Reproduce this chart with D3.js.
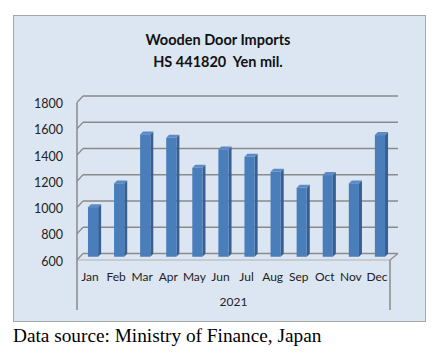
<!DOCTYPE html>
<html>
<head>
<meta charset="utf-8">
<script src="https://cdn.jsdelivr.net/npm/d3@7"></script>
<style>
  body { margin: 0; background: #fff; }
  svg { display: block; }
</style>
</head>
<body>
<div id="chart"></div>
<script>
const months = ["Jan", "Feb", "Mar", "Apr", "May", "Jun", "Jul", "Aug", "Sep", "Oct", "Nov", "Dec"];
const imports = [978, 1159, 1532, 1506, 1278, 1418, 1361, 1247, 1125, 1222, 1159, 1527];
const yTicks = [600, 800, 1000, 1200, 1400, 1600, 1800];
const yearLabel = "2021";
const titleLines = ["Wooden Door Imports", "HS 441820  Yen mil."];
const sourceNote = "Data source: Ministry of Finance, Japan";

const W = 436, H = 353;
const depth = { dx: 6, dy: -6.5 };   // 3D offset of the back wall
const barDepth = { dx: 3, dy: -3 };
const font = "Lato, 'Open Sans', sans-serif";

const svg = d3.select("#chart").append("svg")
    .attr("width", W)
    .attr("height", H);

// chart panel
svg.append("rect")
    .attr("x", 13.5).attr("y", 15.5)
    .attr("width", 412).attr("height", 306)
    .attr("fill", "#dce6f2")
    .attr("stroke", "#a6a6a6")
    .attr("stroke-width", 1);

const title = svg.append("text")
    .attr("text-anchor", "middle")
    .style("font-family", font)
    .style("font-weight", "bold")
    .style("font-size", "14.5px")
    .style("white-space", "pre")
    .attr("fill", "#111");
title.selectAll("tspan").data(titleLines).enter().append("tspan")
    .attr("x", 218)
    .attr("y", (d, i) => 45 + i * 21.5)
    .text(d => d);

const x = d3.scaleBand().domain(months).range([77, 390]);
const yFront = d3.scaleLinear().domain([600, 1800]).range([260, 102.5]);
const yBack = v => yFront(v) + depth.dy;
const yMid = v => yFront(v) + depth.dy / 2;

const grid = "#8a8a8a";

// back wall gridlines + left wall slants
const g = svg.append("g");
g.selectAll(".grid").data(yTicks).enter().append("line")
    .attr("x1", 77 + depth.dx).attr("x2", 398)
    .attr("y1", d => yBack(d)).attr("y2", d => yBack(d))
    .attr("stroke", grid).attr("stroke-width", 1.5);
g.selectAll(".slant").data(yTicks).enter().append("line")
    .attr("x1", 77).attr("y1", d => yFront(d))
    .attr("x2", 77 + depth.dx).attr("y2", d => yBack(d))
    .attr("stroke", grid).attr("stroke-width", 1.2);

// floor front edge and right slant
g.append("line")
    .attr("x1", 77).attr("x2", 390)
    .attr("y1", yFront(600)).attr("y2", yFront(600))
    .attr("stroke", "#b0b0b0").attr("stroke-width", 1);
g.append("line")
    .attr("x1", 390).attr("y1", yFront(600))
    .attr("x2", 398).attr("y2", yBack(600))
    .attr("stroke", grid).attr("stroke-width", 1.2);

// vertical axis line and category dividers
g.append("line")
    .attr("x1", 77).attr("x2", 77)
    .attr("y1", yFront(1800)).attr("y2", 310)
    .attr("stroke", grid).attr("stroke-width", 1.5);
g.append("line")
    .attr("x1", 390).attr("x2", 390)
    .attr("y1", yFront(600)).attr("y2", 310)
    .attr("stroke", grid).attr("stroke-width", 1.5);

// y labels
const yAxis = svg.append("g")
    .attr("transform", "translate(77,1)")
    .call(d3.axisLeft(yFront).tickValues(yTicks).tickFormat(d3.format("d")).tickSize(0).tickPadding(14));
yAxis.select(".domain").remove();
yAxis.selectAll("text")
    .style("font-family", font)
    .style("font-size", "12.5px")
    .attr("fill", "#222");

// 3D bars
const bw = x.bandwidth() * 0.39;
const bars = svg.append("g").selectAll(".bar")
    .data(months.map((m, i) => ({ month: m, value: imports[i] })))
    .enter().append("g");

const bx = d => x(d.month) + (x.bandwidth() - bw) / 2 + depth.dx / 2;
const base = yMid(600);

bars.append("path")   // side face
    .attr("d", d => {
        const x0 = bx(d) + bw, yt = yMid(d.value);
        return `M${x0},${yt}L${x0 + barDepth.dx},${yt + barDepth.dy}L${x0 + barDepth.dx},${base + barDepth.dy}L${x0},${base}Z`;
    })
    .attr("fill", "#375f91");
bars.append("path")   // top face
    .attr("d", d => {
        const x0 = bx(d), yt = yMid(d.value);
        return `M${x0},${yt}L${x0 + barDepth.dx},${yt + barDepth.dy}L${x0 + bw + barDepth.dx},${yt + barDepth.dy}L${x0 + bw},${yt}Z`;
    })
    .attr("fill", "#5b8ac6");
bars.append("rect")   // front face
    .attr("x", bx)
    .attr("y", d => yMid(d.value))
    .attr("width", bw)
    .attr("height", d => base - yMid(d.value))
    .attr("fill", "#4a7ebb");

// category labels
svg.append("g").selectAll(".cat").data(months).enter().append("text")
    .attr("x", d => x(d) + x.bandwidth() / 2)
    .attr("y", 281)
    .attr("text-anchor", "middle")
    .style("font-family", font)
    .style("font-size", "12px")
    .attr("fill", "#222")
    .text(d => d);

svg.append("text")
    .attr("x", 233.5).attr("y", 306)
    .attr("text-anchor", "middle")
    .style("font-family", font)
    .style("font-size", "12px")
    .attr("fill", "#222")
    .text(yearLabel);

svg.append("text")
    .attr("x", 13).attr("y", 342)
    .style("font-family", "'Liberation Serif', 'DejaVu Serif', serif")
    .style("font-size", "19.3px")
    .attr("fill", "#000")
    .text(sourceNote);
</script>
</body>
</html>
